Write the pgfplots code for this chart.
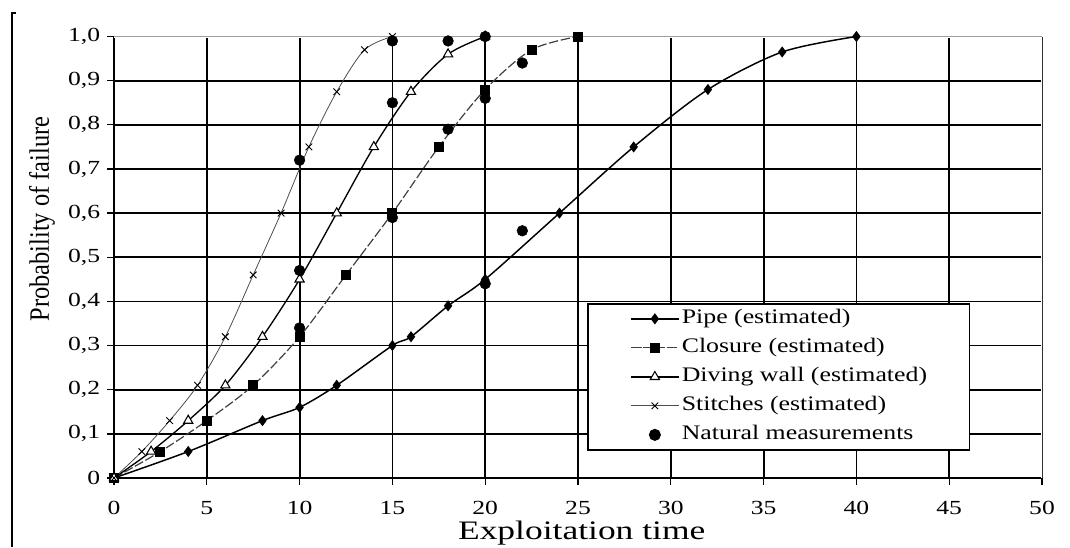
\documentclass[border=0pt]{standalone}
\usepackage{fontspec}
\setmainfont{Liberation Serif}
\usepackage{graphicx}
\usepackage{pgfplots}
\pgfplotsset{compat=1.18}
\begin{document}
\begin{tikzpicture}
\path[use as bounding box] (-85.5pt,-51.75pt) rectangle (717pt,358.5pt);
\draw[black, line width=0.9pt] (-73.5pt,348.75pt) -- (-76.5pt,348.75pt) -- (-76.5pt,-51.75pt);
\begin{axis}[
  at={(0,0)}, anchor=south west,
  scale only axis, width=696pt, height=331.1pt,
  xmin=0, xmax=50, ymin=0, ymax=1,
  axis lines=left, axis line style={-, line width=1.8pt},
  xtick={0,5,10,15,20,25,30,35,40,45,50},
  xticklabels={0,5,10,15,20,25,30,35,40,45,50},
  ytick={0,0.1,0.2,0.3,0.4,0.5,0.6,0.7,0.8,0.9,1},
  yticklabels={0,{0,1},{0,2},{0,3},{0,4},{0,5},{0,6},{0,7},{0,8},{0,9},{1,0}},
  grid=major, major grid style={black, line width=1.35pt},
  tick align=outside, major tick length=5pt, tick style={black, line width=1pt},
  tick label style={font=\fontsize{15}{16}\selectfont, xscale=1.28},
  xticklabel style={anchor=base, yshift=-22pt},
  yticklabel style={anchor=east, inner xsep=0pt, xshift=-4pt},
  every axis x label/.style={at={(axis description cs:0.504,-0.1404)}, anchor=base, font=\fontsize{20}{22}\selectfont, xscale=1.33},
  every axis y label/.style={at={(axis description cs:-0.0776,0.5866)}, anchor=center, rotate=90, yscale=1.15, font=\fontsize{18.3}{20}\selectfont},
  xlabel={Exploitation time},
  ylabel={Probability of failure},
  legend style={at={(axis cs:25.5,0.396)}, anchor=north west, draw=black, line width=1pt,
    inner xsep=32pt, inner ysep=4pt, row sep=7.25pt, column sep=2pt,
    nodes={inner sep=0pt, text height=11pt, text depth=3.5pt},
    cells={anchor=west}, font=\fontsize{15.5}{17}\selectfont},
  legend image code/.code={\draw[mark repeat=2,mark phase=2,#1] plot coordinates {(0cm,0cm) (0.62cm,0cm) (1.24cm,0cm)};},
]
\draw[white, line width=1.8pt] (axis cs:0,1) -- (axis cs:50,1) -- (axis cs:50,0);
\draw[gray!75, line width=0.7pt] (axis cs:0,1) -- (axis cs:50,1) -- (axis cs:50,0);

\addplot[black, line width=1.1pt, smooth, mark=diamond*, mark size=3.3pt, mark options={solid}]
  coordinates {(0,0)(4,0.06)(8,0.13)(10,0.16)(12,0.21)(15,0.30)(16,0.32)(18,0.39)(20,0.45)(24,0.60)(28,0.75)(32,0.88)(36,0.965)(40,1.0)};
\addlegendentry{\scalebox{1.25}[1]{Pipe (estimated)}}

\addplot[black!75, line width=0.9pt, dash pattern=on 7pt off 2pt, smooth, mark=square*, mark size=3.3pt, mark options={solid, black}]
  coordinates {(0,0)(2.5,0.06)(5,0.13)(7.5,0.21)(10,0.32)(12.5,0.46)(15,0.60)(17.5,0.75)(20,0.88)(22.5,0.97)(25,1.0)};
\addlegendentry{\scalebox{1.25}[1]{Closure (estimated)}}

\addplot[black, line width=1pt, smooth, mark=triangle*, mark size=4pt, mark options={solid, fill=white, line width=0.8pt}]
  coordinates {(0,0)(2,0.06)(4,0.13)(6,0.21)(8,0.32)(10,0.45)(12,0.60)(14,0.75)(16,0.875)(18,0.96)(20,1.0)};
\addlegendentry{\scalebox{1.25}[1]{Diving wall (estimated)}}

\addplot[black!70, line width=0.6pt, smooth, mark=x, mark size=3.5pt, mark options={solid, black, line width=0.7pt}]
  coordinates {(0,0)(1.5,0.06)(3,0.13)(4.5,0.21)(6,0.32)(7.5,0.46)(9,0.60)(10.5,0.75)(12,0.875)(13.5,0.97)(15,1.0)};
\addlegendentry{\scalebox{1.25}[1]{Stitches (estimated)}}

\addplot[only marks, mark=*, mark size=4pt, black]
  coordinates {(10,0.72)(10,0.47)(10,0.34)(15,0.99)(15,0.85)(15,0.59)(18,0.99)(18,0.79)(20,1.0)(20,0.86)(20,0.44)(22,0.94)(22,0.56)};
\addlegendentry{\scalebox{1.25}[1]{Natural measurements}}
\end{axis}
\end{tikzpicture}
\end{document}
